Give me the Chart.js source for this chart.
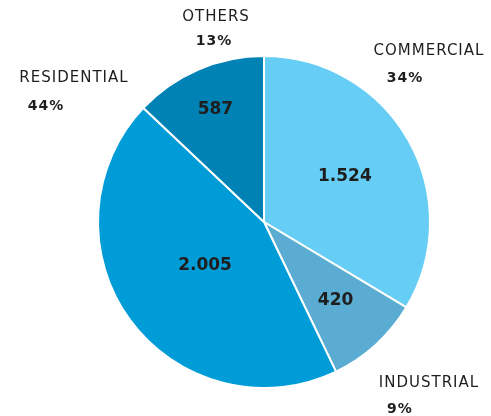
<!DOCTYPE html>
<html>
<head>
<meta charset="utf-8">
<script src="https://cdn.jsdelivr.net/npm/chart.js@4"></script>
<style>
  html, body { margin: 0; padding: 0; background: #fff; }
  #wrap { width: 491px; height: 416px; }
</style>
</head>
<body>
<div id="wrap"><canvas id="pieChart"></canvas></div>
<script>
const sectors = ['COMMERCIAL', 'INDUSTRIAL', 'RESIDENTIAL', 'OTHERS'];
const consumption = [1524, 420, 2005, 587];
const shares = ['34%', '9%', '44%', '13%'];
const colors = ['#66cdf5', '#5aacd3', '#009cd8', '#0082b5'];

// how far out along each slice's middle the value sits (fraction of radius)
const valueRadius = [0.56, 0.64, 0.44, 0.74];
// outside captions, offsets from the pie centre
const nameOffsets = [[165, -171], [165, 161], [-190, -144], [-48, -205]];
const shareOffsets = [[141, -144], [136, 187], [-218, -116], [-50, -181]];

function formatValue(v) {
    return v >= 1000 ? Math.floor(v / 1000) + '.' + String(v % 1000).padStart(3, '0') : String(v);
}

const pieLabels = {
    id: 'pieLabels',
    afterDatasetsDraw(chart) {
        const ctx = chart.ctx;
        const arcs = chart.getDatasetMeta(0).data;
        const cx = arcs[0].x, cy = arcs[0].y;
        ctx.save();
        ctx.textAlign = 'center';
        ctx.textBaseline = 'middle';
        ctx.fillStyle = '#1e1e1e';
        consumption.forEach(function(v, i) {
            const a = arcs[i];
            const mid = (a.startAngle + a.endAngle) / 2;
            const r = a.outerRadius * valueRadius[i];
            ctx.letterSpacing = '0px';
            ctx.font = 'bold 17px "DejaVu Sans"';
            ctx.fillText(formatValue(v), cx + Math.cos(mid) * r, cy + Math.sin(mid) * r);
            ctx.letterSpacing = '1px';
            ctx.font = '15px "DejaVu Sans"';
            ctx.fillText(sectors[i], cx + nameOffsets[i][0], cy + nameOffsets[i][1]);
            ctx.font = 'bold 14px "DejaVu Sans"';
            ctx.fillText(shares[i], cx + shareOffsets[i][0], cy + shareOffsets[i][1]);
        });
        ctx.restore();
    }
};

new Chart(document.getElementById('pieChart'), {
    type: 'pie',
    data: {
        labels: sectors,
        datasets: [{
            data: consumption,
            backgroundColor: colors,
            borderColor: '#ffffff',
            borderWidth: 2
        }]
    },
    options: {
        responsive: true,
        maintainAspectRatio: false,
        animation: false,
        layout: { padding: { left: 97, right: 60, top: 55, bottom: 27 } },
        plugins: {
            legend: { display: false },
            tooltip: { enabled: false }
        }
    },
    plugins: [pieLabels]
});
</script>
</body>
</html>
